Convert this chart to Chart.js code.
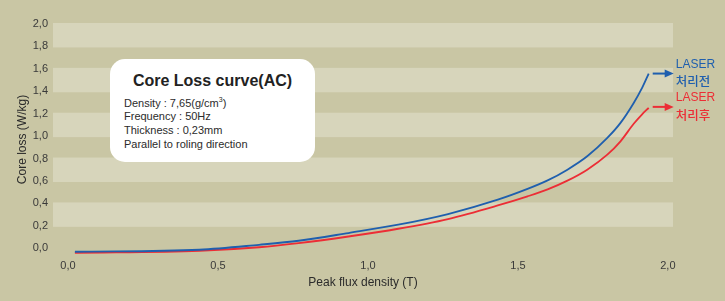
<!DOCTYPE html>
<html>
<head>
<meta charset="utf-8">
<script src="https://cdn.jsdelivr.net/npm/chart.js@4/dist/chart.umd.min.js"></script>
<style>
    html, body { margin: 0; padding: 0; background: #c9c6a4; }
    #wrap { position: relative; width: 725px; height: 301px; }
    #infoBox {
        position: absolute; left: 110px; top: 59px; width: 205px; height: 103px;
        background: #fff; border-radius: 15px; box-sizing: border-box;
        padding: 12px 0 0 14px; color: #2b2b2b;
        font-family: "Liberation Sans", Arial, sans-serif;
    }
    #infoBox .tit { font-size: 16px; font-weight: bold; text-align: center; margin: 0 14px 3px 0; color: #222; line-height: 19px; }
    #infoBox .ln { font-size: 11px; line-height: 13.7px; }
    #infoBox sup { font-size: 7px; }
</style>
</head>
<body>
<div id="wrap">
    <canvas id="doThiCoreLoss" width="725" height="301"></canvas>
    <div id="infoBox">
        <div class="tit">Core Loss curve(AC)</div>
        <div class="ln">Density : 7,65(g/cm<sup>3</sup>)</div>
        <div class="ln">Frequency : 50Hz</div>
        <div class="ln">Thickness : 0,23mm</div>
        <div class="ln">Parallel to roling direction</div>
    </div>
</div>
<script>
var _flux = [0.023, 0.438, 0.637, 0.769, 0.935, 1.101, 1.267, 1.433, 1.532, 1.599, 1.665, 1.731, 1.798, 1.842, 1.886, 1.914, 1.936];
var _lossTruoc = [-0.031, -0.013, 0.031, 0.067, 0.136, 0.210, 0.305, 0.433, 0.529, 0.605, 0.701, 0.820, 0.984, 1.118, 1.296, 1.430, 1.558];
var _lossSau = [-0.040, -0.022, 0.009, 0.046, 0.105, 0.174, 0.261, 0.382, 0.463, 0.525, 0.603, 0.701, 0.835, 0.954, 1.110, 1.195, 1.252];
var _tenSeries = [['LASER', '처리전'], ['LASER', '처리후']];
var _mauSeries = ['#1f5fae', '#ec2d35'];
var _tickX = [0, 0.5, 1.0, 1.5, 2.0];
var _tickY = [0, 0.2, 0.4, 0.6, 0.8, 1.0, 1.2, 1.4, 1.6, 1.8, 2.0];
var _bangSang = [[1.8, 2.0], [1.4, 1.6], [1.0, 1.2], [0.6, 0.8], [0.2, 0.4]]; // cac dai mau sang

var _font = '"Liberation Sans", Arial, sans-serif';

function toPoints(xs, ys) {
    var arr = [];
    xs.forEach(function (x, i) { arr.push({ x: x, y: ys[i] }); });
    return arr;
}
function formatPhay(v) {
    return Number(v).toFixed(1).replace('.', ',');
}

// ve dai nen sang/toi
var bangNen = {
    id: 'bangNen',
    beforeDatasetsDraw: function (chart) {
        var ctx = chart.ctx, a = chart.chartArea, y = chart.scales.y;
        ctx.save();
        ctx.fillStyle = '#d7d5bb';
        _bangSang.forEach(function (b) {
            var top = y.getPixelForValue(b[1]) - 1;
            var bot = y.getPixelForValue(b[0]) + 1;
            ctx.fillRect(a.left, top, a.right - a.left, bot - top);
        });
        ctx.restore();
    }
};

// mui ten + nhan cuoi duong
var nhanCuoi = {
    id: 'nhanCuoi',
    afterDatasetsDraw: function (chart) {
        var ctx = chart.ctx;
        ctx.save();
        chart.data.datasets.forEach(function (ds, i) {
            var meta = chart.getDatasetMeta(i);
            var p = meta.data[meta.data.length - 1];
            var x0 = p.x + 4, yy = p.y + (i === 0 ? 0 : -1);
            ctx.strokeStyle = _mauSeries[i];
            ctx.fillStyle = _mauSeries[i];
            ctx.lineWidth = 2;
            ctx.beginPath();
            ctx.moveTo(x0, yy);
            ctx.lineTo(x0 + 14, yy);
            ctx.stroke();
            ctx.beginPath();
            ctx.moveTo(x0 + 21, yy);
            ctx.lineTo(x0 + 12, yy - 4);
            ctx.lineTo(x0 + 12, yy + 4);
            ctx.closePath();
            ctx.fill();
            ctx.textAlign = 'left';
            ctx.textBaseline = 'middle';
            ctx.font = '12px ' + _font;
            ctx.fillText(_tenSeries[i][0], x0 + 23, yy - 9);
            ctx.font = '500 12.5px "Noto Sans CJK KR", sans-serif';
            ctx.fillText(_tenSeries[i][1], x0 + 23, yy + 8);
        });
        ctx.restore();
    }
};

function renderDoThi() {
    var ctx = document.getElementById('doThiCoreLoss').getContext('2d');
    var data = {
        datasets: [{
            label: _tenSeries[0].join(' '),
            data: toPoints(_flux, _lossTruoc),
            borderColor: _mauSeries[0],
            borderWidth: 1.8,
            pointRadius: 0,
            cubicInterpolationMode: 'monotone'
        }, {
            label: _tenSeries[1].join(' '),
            data: toPoints(_flux, _lossSau),
            borderColor: _mauSeries[1],
            borderWidth: 1.8,
            pointRadius: 0,
            cubicInterpolationMode: 'monotone'
        }]
    };
    new Chart(ctx, {
        type: 'line',
        data: data,
        plugins: [bangNen, nhanCuoi],
        options: {
            responsive: false,
            animation: false,
            layout: { padding: { top: 24, right: 52, left: 0, bottom: 0 } },
            plugins: { legend: { display: false }, tooltip: { enabled: false } },
            scales: {
                x: {
                    type: 'linear',
                    min: -0.05,
                    max: 2.017,
                    afterBuildTicks: function (s) { s.ticks = _tickX.map(function (v) { return { value: v }; }); },
                    afterFit: function (s) { s.height = 46; },
                    grid: { display: false, drawTicks: false },
                    border: { display: false },
                    ticks: {
                        padding: 4,
                        color: '#3a3a3a',
                        font: { family: _font, size: 11 },
                        maxRotation: 0,
                        callback: function (v) { return formatPhay(v); }
                    },
                    title: {
                        display: true,
                        text: 'Peak flux density (T)',
                        color: '#2b2b2b',
                        font: { family: _font, size: 12 },
                        padding: { top: 2, bottom: 11 }
                    }
                },
                y: {
                    min: -0.06,
                    max: 2.0,
                    afterBuildTicks: function (s) { s.ticks = _tickY.map(function (v) { return { value: v }; }); },
                    afterFit: function (s) { s.width = 53; },
                    grid: { display: false, drawTicks: false },
                    border: { display: false },
                    ticks: {
                        padding: 5,
                        color: '#3a3a3a',
                        font: { family: _font, size: 11 },
                        callback: function (v) { return formatPhay(v); }
                    },
                    title: {
                        display: true,
                        text: 'Core loss (W/kg)',
                        color: '#2b2b2b',
                        font: { family: _font, size: 12 },
                        padding: { top: 15, bottom: 0 }
                    }
                }
            }
        }
    });
}
renderDoThi();
</script>
</body>
</html>
